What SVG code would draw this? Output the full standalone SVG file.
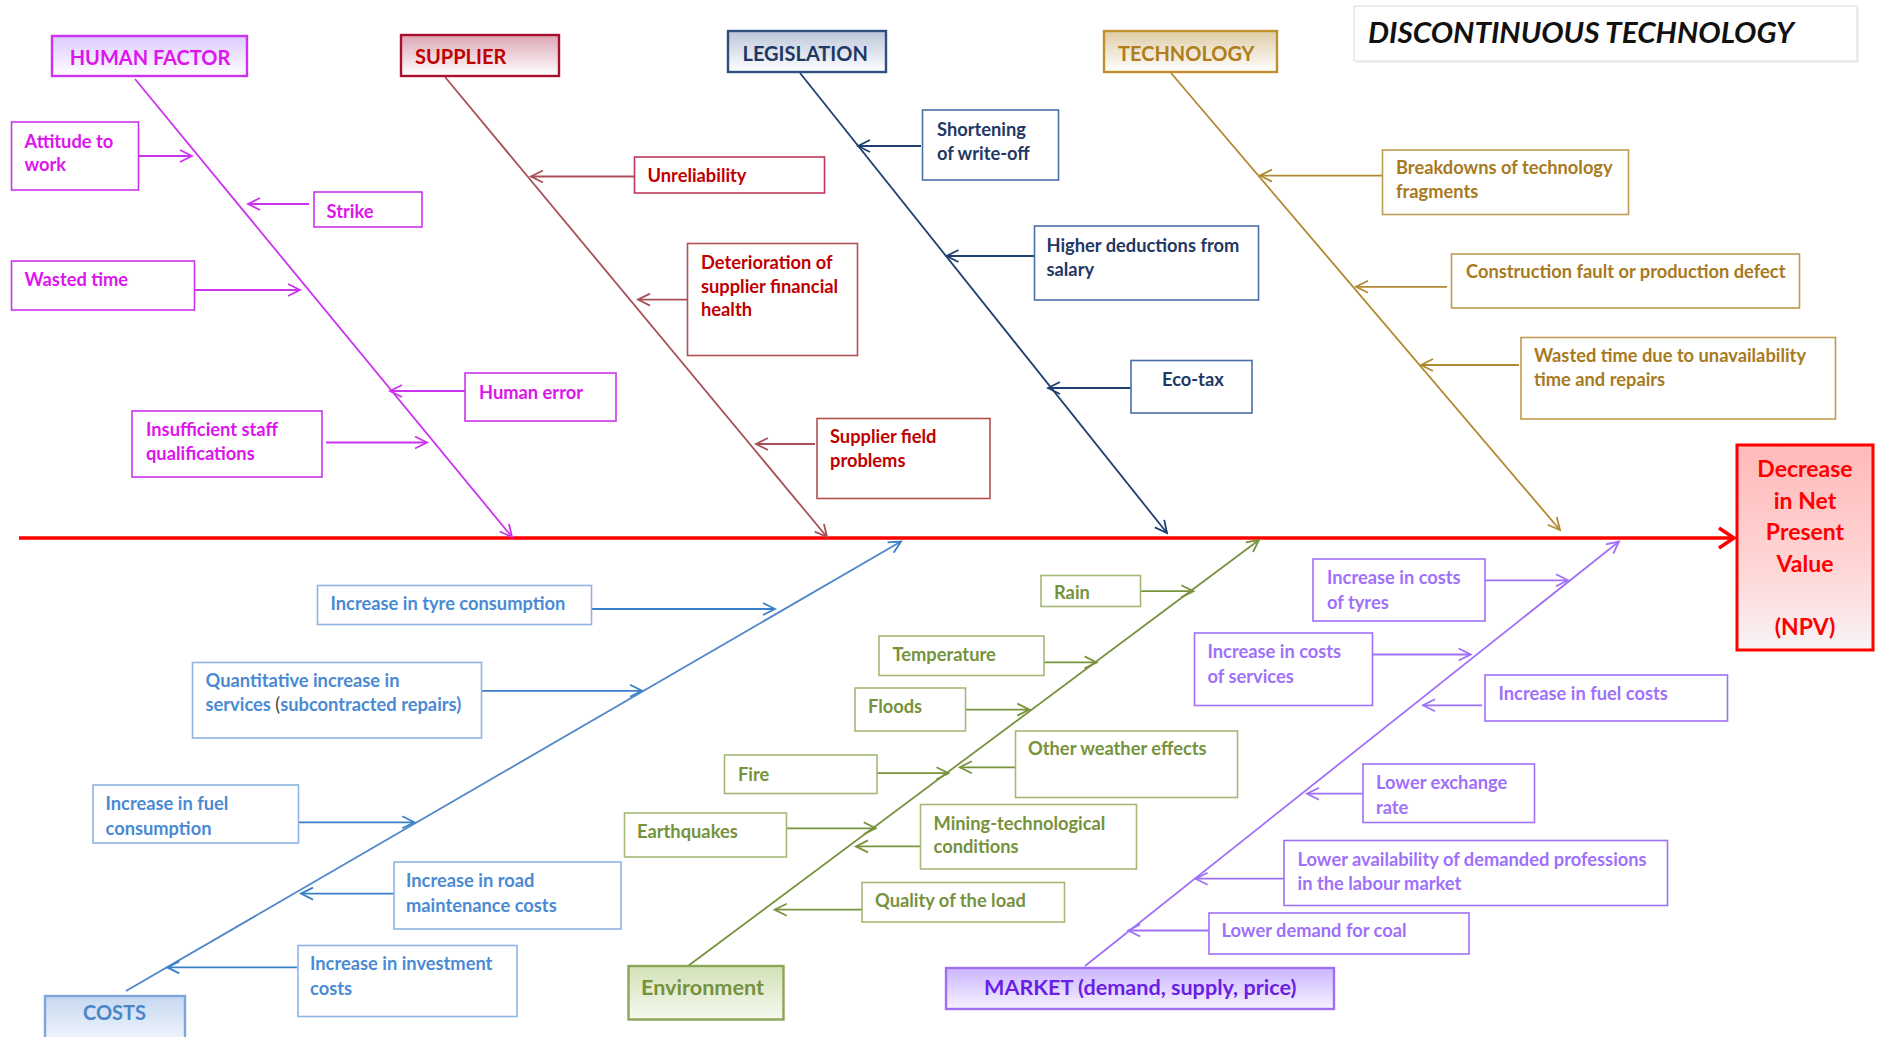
<svg xmlns="http://www.w3.org/2000/svg" width="1879" height="1037" viewBox="0 0 1879 1037">
<defs>
<style>
text{font-family:Lato,"Open Sans","DejaVu Sans",sans-serif;font-weight:bold;}
.t{font-size:18.3px;}
.cat{font-size:20px;}
.cat2{font-size:21.6px;}
.bx{fill:#fff;stroke-width:1.6;}
.cb{stroke-width:2.4;}
.hf{stroke:#cc33ee;}
.su{stroke:#a85058;}
.le{stroke:#1f3f6f;}
.te{stroke:#b08a30;}
.co{stroke:#4f86c8;}
.en{stroke:#77933c;}
.ma{stroke:#a070f8;}
line{stroke-width:1.8;fill:none;}
.spine{stroke-width:1.8;}
</style>
<marker id="aHF" markerUnits="userSpaceOnUse" markerWidth="14" markerHeight="14" refX="12" refY="6" orient="auto" overflow="visible"><path d="M0,0 L12,6 L0,12" fill="none" stroke="#cc33ee" stroke-width="1.8"/></marker>
<marker id="aSU" markerUnits="userSpaceOnUse" markerWidth="14" markerHeight="14" refX="12" refY="6" orient="auto" overflow="visible"><path d="M0,0 L12,6 L0,12" fill="none" stroke="#a85058" stroke-width="1.8"/></marker>
<marker id="aLE" markerUnits="userSpaceOnUse" markerWidth="14" markerHeight="14" refX="12" refY="6" orient="auto" overflow="visible"><path d="M0,0 L12,6 L0,12" fill="none" stroke="#1f3f6f" stroke-width="1.8"/></marker>
<marker id="aTE" markerUnits="userSpaceOnUse" markerWidth="14" markerHeight="14" refX="12" refY="6" orient="auto" overflow="visible"><path d="M0,0 L12,6 L0,12" fill="none" stroke="#b08a30" stroke-width="1.8"/></marker>
<marker id="aCO" markerUnits="userSpaceOnUse" markerWidth="14" markerHeight="14" refX="12" refY="6" orient="auto" overflow="visible"><path d="M0,0 L12,6 L0,12" fill="none" stroke="#3a80c8" stroke-width="1.8"/></marker>
<marker id="aEN" markerUnits="userSpaceOnUse" markerWidth="14" markerHeight="14" refX="12" refY="6" orient="auto" overflow="visible"><path d="M0,0 L12,6 L0,12" fill="none" stroke="#77933c" stroke-width="1.8"/></marker>
<marker id="aMA" markerUnits="userSpaceOnUse" markerWidth="14" markerHeight="14" refX="12" refY="6" orient="auto" overflow="visible"><path d="M0,0 L12,6 L0,12" fill="none" stroke="#a070f8" stroke-width="1.8"/></marker>
<marker id="aRED" markerUnits="userSpaceOnUse" markerWidth="20" markerHeight="24" refX="15" refY="10" orient="auto" overflow="visible"><path d="M0,0 L15,10 L0,20" fill="none" stroke="#ff0000" stroke-width="3.5"/></marker>
<linearGradient id="gHF" x1="0" y1="0" x2="0" y2="1"><stop offset="0" stop-color="#dccbff"/><stop offset="1" stop-color="#ffffff"/></linearGradient>
<linearGradient id="gSU" x1="0" y1="0" x2="0" y2="1"><stop offset="0" stop-color="#dca6b4"/><stop offset="1" stop-color="#ffffff"/></linearGradient>
<linearGradient id="gLE" x1="0" y1="0" x2="0" y2="1"><stop offset="0" stop-color="#bcc6da"/><stop offset="1" stop-color="#ffffff"/></linearGradient>
<linearGradient id="gTE" x1="0" y1="0" x2="0" y2="1"><stop offset="0" stop-color="#dfcca6"/><stop offset="1" stop-color="#ffffff"/></linearGradient>
<linearGradient id="gCO" x1="0" y1="0" x2="0" y2="1"><stop offset="0" stop-color="#c6d8f1"/><stop offset="1" stop-color="#f0f5fc"/></linearGradient>
<linearGradient id="gEN" x1="0" y1="0" x2="0" y2="1"><stop offset="0" stop-color="#d3e1b8"/><stop offset="1" stop-color="#f6f9ef"/></linearGradient>
<linearGradient id="gMA" x1="0" y1="0" x2="0" y2="1"><stop offset="0" stop-color="#cbb6ff"/><stop offset="1" stop-color="#f6f2ff"/></linearGradient>
<linearGradient id="gNPV" x1="0" y1="0" x2="0" y2="1"><stop offset="0" stop-color="#ffb9b9"/><stop offset="0.6" stop-color="#ffd6d6"/><stop offset="1" stop-color="#f8f4f6"/></linearGradient>
</defs>
<rect width="1879" height="1037" fill="#ffffff"/>

<g id="title">
<rect x="1356" y="8" width="503" height="55" fill="#f2f2f2"/>
<rect x="1354" y="6" width="503" height="55" fill="#ffffff" stroke="#dcdcdc" stroke-width="1"/>
<text x="1368" y="43" font-size="28" font-style="italic" fill="#111111" textLength="426" lengthAdjust="spacingAndGlyphs">DISCONTINUOUS TECHNOLOGY</text>
</g>

<g id="connectors">
<line x1="19" y1="538" x2="1734" y2="538" stroke="#ff0000" style="stroke-width:3.5" marker-end="url(#aRED)"/>
<line class="spine hf" x1="135" y1="79" x2="512" y2="537" marker-end="url(#aHF)"/>
<line class="spine su" x1="445" y1="77" x2="827" y2="537" marker-end="url(#aSU)"/>
<line class="spine le" x1="800" y1="73" x2="1167" y2="533" marker-end="url(#aLE)"/>
<line class="spine te" x1="1171" y1="73" x2="1560" y2="530" marker-end="url(#aTE)"/>
<line class="spine co" x1="126" y1="991" x2="901" y2="541.5" marker-end="url(#aCO)"/>
<line class="spine en" x1="688" y1="966" x2="1259" y2="540" marker-end="url(#aEN)"/>
<line class="spine ma" x1="1085" y1="966" x2="1619" y2="541.5" marker-end="url(#aMA)"/>

<line class="hf" x1="139" y1="156" x2="192" y2="156" marker-end="url(#aHF)"/>
<line class="hf" x1="309" y1="204" x2="248" y2="204" marker-end="url(#aHF)"/>
<line class="hf" x1="195" y1="290" x2="300" y2="290" marker-end="url(#aHF)"/>
<line class="hf" x1="469" y1="391" x2="390" y2="391" marker-end="url(#aHF)"/>
<line class="hf" x1="326" y1="442.5" x2="427" y2="442.5" marker-end="url(#aHF)"/>

<line class="su" x1="634" y1="176.5" x2="531" y2="176.5" marker-end="url(#aSU)"/>
<line class="su" x1="687" y1="299.6" x2="638" y2="299.6" marker-end="url(#aSU)"/>
<line class="su" x1="815" y1="444" x2="756" y2="444" marker-end="url(#aSU)"/>

<line class="le" x1="921" y1="146" x2="858" y2="146" marker-end="url(#aLE)"/>
<line class="le" x1="1036" y1="256" x2="946.5" y2="256" marker-end="url(#aLE)"/>
<line class="le" x1="1131" y1="388" x2="1048" y2="388" marker-end="url(#aLE)"/>

<line class="te" x1="1382.6" y1="175.6" x2="1260" y2="175.6" marker-end="url(#aTE)"/>
<line class="te" x1="1447" y1="286.8" x2="1356" y2="286.8" marker-end="url(#aTE)"/>
<line class="te" x1="1519" y1="365" x2="1421" y2="365" marker-end="url(#aTE)"/>

<line stroke="#3a80c8" x1="591.4" y1="609" x2="775" y2="609" marker-end="url(#aCO)"/>
<line stroke="#3a80c8" x1="481.6" y1="690.8" x2="642" y2="690.8" marker-end="url(#aCO)"/>
<line stroke="#3a80c8" x1="298.4" y1="822.3" x2="414.3" y2="822.3" marker-end="url(#aCO)"/>
<line stroke="#3a80c8" x1="394" y1="893.6" x2="301" y2="893.6" marker-end="url(#aCO)"/>
<line stroke="#3a80c8" x1="297" y1="967.4" x2="167.3" y2="967.4" marker-end="url(#aCO)"/>

<line class="en" x1="1140.4" y1="591.2" x2="1193.4" y2="591.2" marker-end="url(#aEN)"/>
<line class="en" x1="1044" y1="662.4" x2="1096.6" y2="662.4" marker-end="url(#aEN)"/>
<line class="en" x1="963" y1="709.6" x2="1029.3" y2="709.6" marker-end="url(#aEN)"/>
<line class="en" x1="1015.4" y1="767.3" x2="959.8" y2="767.3" marker-end="url(#aEN)"/>
<line class="en" x1="875" y1="773.2" x2="948.5" y2="773.2" marker-end="url(#aEN)"/>
<line class="en" x1="786.4" y1="828.3" x2="875.7" y2="828.3" marker-end="url(#aEN)"/>
<line class="en" x1="920.7" y1="846.4" x2="855.9" y2="846.4" marker-end="url(#aEN)"/>
<line class="en" x1="864.3" y1="909.7" x2="774.7" y2="909.7" marker-end="url(#aEN)"/>

<line class="ma" x1="1485" y1="580.3" x2="1568" y2="580.3" marker-end="url(#aMA)"/>
<line class="ma" x1="1372.6" y1="654.5" x2="1470.7" y2="654.5" marker-end="url(#aMA)"/>
<line class="ma" x1="1482.3" y1="705.3" x2="1423" y2="705.3" marker-end="url(#aMA)"/>
<line class="ma" x1="1362.8" y1="793.7" x2="1307" y2="793.7" marker-end="url(#aMA)"/>
<line class="ma" x1="1283.9" y1="878.7" x2="1195.6" y2="878.7" marker-end="url(#aMA)"/>
<line class="ma" x1="1222" y1="930.5" x2="1128.2" y2="930.5" marker-end="url(#aMA)"/>
</g>

<g id="npv">
<rect x="1737" y="445" width="136" height="205" fill="url(#gNPV)" stroke="#ff0000" stroke-width="3"/>
<text font-size="23" fill="#ff0000" text-anchor="middle"><tspan x="1805" y="477">Decrease</tspan><tspan x="1805" y="508.5">in Net</tspan><tspan x="1805" y="540">Present</tspan><tspan x="1805" y="571.5">Value</tspan><tspan x="1805" y="634.5">(NPV)</tspan></text>
</g>

<g id="human-factor">
<rect class="cb hf" x="52" y="36" width="195" height="40" fill="url(#gHF)"/>
<text class="cat" x="150" y="65" text-anchor="middle" fill="#dd14ee">HUMAN FACTOR</text>
</g>
<g id="hf-attitude"><rect class="bx hf" x="11.5" y="122" width="127" height="68"/><text class="t" fill="#dd14ee"><tspan x="24.5" y="147.5">Attitude to</tspan><tspan x="24.5" y="170.5">work</tspan></text></g>
<g id="hf-strike"><rect class="bx hf" x="314" y="192" width="108" height="35"/><text class="t" fill="#dd14ee" x="326.5" y="217.5">Strike</text></g>
<g id="hf-wasted"><rect class="bx hf" x="11.5" y="261" width="183" height="49"/><text class="t" fill="#dd14ee" x="24.5" y="286">Wasted time</text></g>
<g id="hf-error"><rect class="bx hf" x="465" y="373" width="151" height="48"/><text class="t" fill="#dd14ee" x="479" y="398.5">Human error</text></g>
<g id="hf-staff"><rect class="bx hf" x="132" y="411" width="190" height="66"/><text class="t" fill="#dd14ee"><tspan x="146" y="435.5">Insufficient staff</tspan><tspan x="146" y="459.5">qualifications</tspan></text></g>

<g id="supplier">
<rect class="cb" stroke="#a8102e" x="401" y="35" width="158" height="41" fill="url(#gSU)"/>
<text class="cat" x="415" y="63.5" fill="#c00000">SUPPLIER</text>
</g>
<g id="su-unrel"><rect class="bx" stroke="#c03858" x="634.5" y="157" width="190" height="36"/><text class="t" fill="#c00000" x="647.5" y="182">Unreliability</text></g>
<g id="su-det"><rect class="bx" stroke="#b05050" x="687.5" y="243.5" width="170" height="112"/><text class="t" fill="#c00000"><tspan x="701" y="268.5">Deterioration of</tspan><tspan x="701" y="292.5">supplier financial</tspan><tspan x="701" y="316">health</tspan></text></g>
<g id="su-field"><rect class="bx" stroke="#b05050" x="817" y="418.5" width="173" height="80"/><text class="t" fill="#c00000"><tspan x="830" y="443">Supplier field</tspan><tspan x="830" y="466.5">problems</tspan></text></g>

<g id="legislation">
<rect class="cb" stroke="#2f4f7f" x="728" y="31" width="158" height="41" fill="url(#gLE)"/>
<text class="cat" x="742.5" y="60.5" fill="#1f3864">LEGISLATION</text>
</g>
<g id="le-short"><rect class="bx" stroke="#4a6fa5" x="922.5" y="110" width="136" height="70"/><text class="t" fill="#1f3864"><tspan x="937" y="136">Shortening</tspan><tspan x="937" y="160">of write-off</tspan></text></g>
<g id="le-higher"><rect class="bx" stroke="#4a6fa5" x="1034.5" y="226" width="224" height="74"/><text class="t" fill="#1f3864"><tspan x="1046.5" y="251.5">Higher deductions from</tspan><tspan x="1046.5" y="275.5">salary</tspan></text></g>
<g id="le-eco"><rect class="bx" stroke="#4a6fa5" x="1131" y="360.5" width="121" height="52.5"/><text class="t" fill="#1f3864" x="1162" y="385.5">Eco-tax</text></g>

<g id="technology">
<rect class="cb" stroke="#c09030" x="1104" y="31" width="173" height="41" fill="url(#gTE)"/>
<text class="cat" x="1118" y="60.5" fill="#b07d1a">TECHNOLOGY</text>
</g>
<g id="te-break"><rect class="bx" stroke="#c09a50" x="1382.5" y="150" width="246" height="64.5"/><text class="t" fill="#a87a1e"><tspan x="1396" y="174">Breakdowns of technology</tspan><tspan x="1396" y="197.5">fragments</tspan></text></g>
<g id="te-constr"><rect class="bx" stroke="#c09a50" x="1451.5" y="254" width="348" height="54"/><text class="t" fill="#a87a1e" x="1466" y="278">Construction fault or production defect</text></g>
<g id="te-wasted"><rect class="bx" stroke="#c09a50" x="1521" y="337.5" width="314.5" height="81.5"/><text class="t" fill="#a87a1e"><tspan x="1534" y="362">Wasted time due to unavailability</tspan><tspan x="1534" y="385.5">time and repairs</tspan></text></g>

<g id="costs">
<rect class="cb" stroke="#7ea6dc" x="45" y="996" width="140" height="44" fill="url(#gCO)"/>
<text class="cat" x="114.5" y="1019.5" text-anchor="middle" fill="#4a86c8">COSTS</text>
</g>
<g id="co-tyre"><rect class="bx" stroke="#8fb3e3" x="317.5" y="585.5" width="274" height="39"/><text class="t" fill="#4a8ad4" x="330.5" y="609.5">Increase in tyre consumption</text></g>
<g id="co-quant"><rect class="bx" stroke="#8fb3e3" x="192.5" y="662.5" width="289" height="75.5"/><text class="t" fill="#4a8ad4"><tspan x="205.5" y="686.5">Quantitative increase in</tspan><tspan x="205.5" y="711">services </tspan><tspan fill="#404040" style="font-weight:normal">(</tspan><tspan>subcontracted repairs)</tspan></text></g>
<g id="co-fuel"><rect class="bx" stroke="#8fb3e3" x="93" y="785" width="205.5" height="58"/><text class="t" fill="#4a8ad4"><tspan x="105.5" y="810">Increase in fuel</tspan><tspan x="105.5" y="835">consumption</tspan></text></g>
<g id="co-road"><rect class="bx" stroke="#8fb3e3" x="394" y="862" width="227" height="67"/><text class="t" fill="#4a8ad4"><tspan x="406" y="886.5">Increase in road</tspan><tspan x="406" y="911.5">maintenance costs</tspan></text></g>
<g id="co-invest"><rect class="bx" stroke="#8fb3e3" x="298" y="945.5" width="219" height="71"/><text class="t" fill="#4a8ad4"><tspan x="310" y="970">Increase in investment</tspan><tspan x="310" y="995">costs</tspan></text></g>

<g id="environment">
<rect class="cb" stroke="#8aa656" x="628.5" y="966" width="155" height="53.5" fill="url(#gEN)"/>
<text class="cat2" x="641" y="995" fill="#76923c">Environment</text>
</g>
<g id="en-rain"><rect class="bx" stroke="#a4b978" x="1041" y="575.5" width="99.5" height="31"/><text class="t" fill="#76923c" x="1054" y="599">Rain</text></g>
<g id="en-temp"><rect class="bx" stroke="#a4b978" x="879" y="636" width="165" height="39.5"/><text class="t" fill="#76923c" x="892.5" y="661">Temperature</text></g>
<g id="en-flood"><rect class="bx" stroke="#a4b978" x="855" y="688" width="110.5" height="43"/><text class="t" fill="#76923c" x="868" y="713">Floods</text></g>
<g id="en-other"><rect class="bx" stroke="#a4b978" x="1015.5" y="731" width="222" height="66.5"/><text class="t" fill="#76923c" x="1028" y="755">Other weather effects</text></g>
<g id="en-fire"><rect class="bx" stroke="#a4b978" x="724.5" y="755" width="152.5" height="38.5"/><text class="t" fill="#76923c" x="738" y="780.5">Fire</text></g>
<g id="en-earth"><rect class="bx" stroke="#a4b978" x="624.5" y="813" width="162" height="44"/><text class="t" fill="#76923c" x="637" y="838">Earthquakes</text></g>
<g id="en-mining"><rect class="bx" stroke="#a4b978" x="920.5" y="804.5" width="216" height="64.5"/><text class="t" fill="#76923c"><tspan x="933.5" y="830">Mining-technological</tspan><tspan x="933.5" y="853">conditions</tspan></text></g>
<g id="en-quality"><rect class="bx" stroke="#a4b978" x="862" y="882.5" width="202.5" height="39.5"/><text class="t" fill="#76923c" x="875" y="906.5">Quality of the load</text></g>

<g id="market">
<rect class="cb" stroke="#a070f0" x="946" y="968" width="388" height="41" fill="url(#gMA)"/>
<text class="cat2" x="984" y="995" fill="#6a1ee6">MARKET (demand, supply, price)</text>
</g>
<g id="ma-tyres"><rect class="bx ma" x="1313" y="559" width="172" height="62"/><text class="t" fill="#9f70fa"><tspan x="1327" y="583.5">Increase in costs</tspan><tspan x="1327" y="608.5">of tyres</tspan></text></g>
<g id="ma-serv"><rect class="bx ma" x="1194.5" y="633" width="178" height="72.5"/><text class="t" fill="#9f70fa"><tspan x="1207.5" y="658">Increase in costs</tspan><tspan x="1207.5" y="683">of services</tspan></text></g>
<g id="ma-fuel"><rect class="bx ma" x="1485" y="675" width="242.5" height="46"/><text class="t" fill="#9f70fa" x="1498.5" y="699.5">Increase in fuel costs</text></g>
<g id="ma-exch"><rect class="bx ma" x="1363" y="764" width="171.5" height="58.5"/><text class="t" fill="#9f70fa"><tspan x="1376" y="788.5">Lower exchange</tspan><tspan x="1376" y="813.5">rate</tspan></text></g>
<g id="ma-avail"><rect class="bx ma" x="1284" y="840.5" width="383.5" height="65"/><text class="t" fill="#9f70fa"><tspan x="1297.5" y="865.5">Lower availability of demanded professions</tspan><tspan x="1297.5" y="890">in the labour market</tspan></text></g>
<g id="ma-coal"><rect class="bx ma" x="1209" y="913" width="260" height="41"/><text class="t" fill="#9f70fa" x="1221.5" y="937">Lower demand for coal</text></g>
</svg>
